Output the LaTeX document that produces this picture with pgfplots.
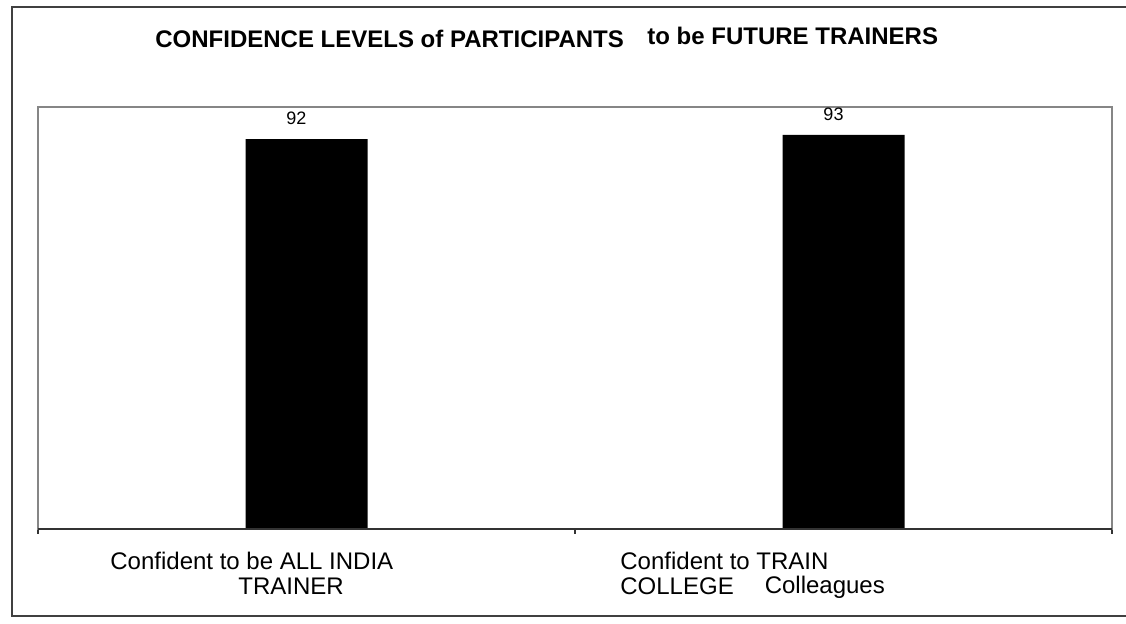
\documentclass[border=0pt]{standalone}
\usepackage{pgfplots}
\pgfplotsset{compat=1.18}
\usepackage{fontspec}
\setmainfont{Liberation Sans}
\definecolor{framegray}{HTML}{868686}
\definecolor{outerline}{HTML}{404040}
\begin{document}
\begin{tikzpicture}
\useasboundingbox (-19pt,-47.5pt) rectangle (544pt,264.5pt);
\begin{axis}[
  at={(0,0)}, anchor=south west,
  scale only axis, width=537pt, height=211pt,
  ybar, bar width=61pt,
  xmin=-0.5, xmax=1.5, ymin=0, ymax=99.6,
  ytick=\empty,
  /pgf/number format/assume math mode=true,
  axis line style={draw=framegray, line width=1pt},
  xtick={0},
  xticklabels={{Confident to be ALL INDIA\\\hspace*{64pt}TRAINER}},
  extra x ticks={1},
  extra x tick labels={{Confident to TRAIN\\COLLEGE\hspace*{15.5pt}\raisebox{0.8pt}{Colleagues}}},
  extra x tick style={major tick length=0pt, xticklabel style={xshift=-13.5pt}},
  major tick length=0pt,
  minor xtick={-0.5,0.5,1.5},
  minor tick length=2.5pt,
  tick align=outside,
  xtick pos=left,
  tick style={draw=black!80, line width=0.6pt},
  xticklabel style={anchor=north west, align=left, inner sep=0pt,
    font=\fontsize{12}{12.5}\selectfont, xshift=-98.25pt, yshift=-11.5pt},
  nodes near coords,
  every node near coord/.append style={font=\fontsize{9}{10}\selectfont,
    anchor=south, inner sep=0pt, xshift=-5pt, yshift=7pt},
  clip=false,
]
\addplot[fill=black, draw=none] coordinates {(0,92) (1,93)};
\end{axis}
\draw[black!80, line width=1pt] (0,0) -- (537pt,0);
\draw[outerline, line width=1pt] (544pt,261pt) -- (-13pt,261pt) -- (-13pt,-43.5pt) -- (544pt,-43.5pt);
\node[anchor=base west, inner sep=0pt, font=\bfseries\fontsize{12}{14}\selectfont] at (58.5pt,240.5pt) {CONFIDENCE LEVELS of PARTICIPANTS};
\node[anchor=base west, inner sep=0pt, font=\bfseries\fontsize{12}{14}\selectfont] at (304.5pt,242pt) {to be FUTURE TRAINERS};
\end{tikzpicture}
\end{document}
